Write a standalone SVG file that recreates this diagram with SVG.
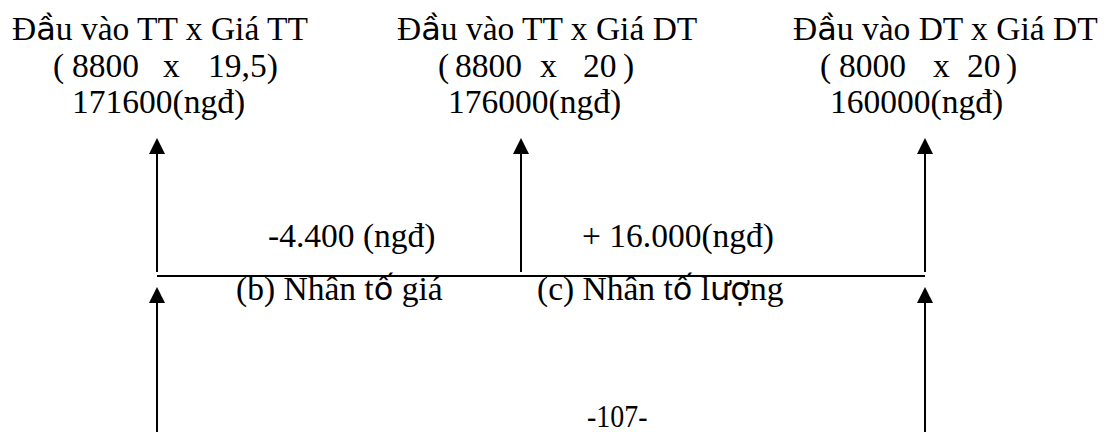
<svg xmlns="http://www.w3.org/2000/svg" width="1106" height="432" viewBox="0 0 1106 432">
<style>
text{font-family:"Liberation Serif","Times New Roman",serif;font-size:33.5px;fill:#000}
.s{font-family:"DejaVu Sans","Liberation Sans",sans-serif;font-size:32px}
.ln{stroke:#000;stroke-width:2;fill:none}
.pg{font-size:31px}
</style>
<defs>
<marker id="ah" markerUnits="userSpaceOnUse" markerWidth="16" markerHeight="16" viewBox="0 0 16 16" refX="8" refY="8" orient="auto">
<path d="M0,0 L16,8 L0,16 z" fill="#000"/>
</marker>
</defs>
<g id="connectors">
<line class="ln" x1="157" y1="272" x2="157" y2="146" marker-end="url(#ah)"/>
<line class="ln" x1="521" y1="272" x2="521" y2="146" marker-end="url(#ah)"/>
<line class="ln" x1="925" y1="272" x2="925" y2="146" marker-end="url(#ah)"/>
<line class="ln" x1="157" y1="276" x2="925" y2="276"/>
<line class="ln" x1="157" y1="432" x2="157" y2="295" marker-end="url(#ah)"/>
<line class="ln" x1="925" y1="432" x2="925" y2="295" marker-end="url(#ah)"/>
</g>
<g id="node-tt-tt">
<text x="12" y="40">Đ<tspan class="s">ầ</tspan>u vào TT x Giá TT</text>
<text y="77"><tspan x="53">(</tspan><tspan x="72">8800</tspan><tspan x="163">x</tspan><tspan x="208">19,5)</tspan></text>
<text x="72" y="113">171600(ngđ)</text>
</g>
<g id="node-tt-dt">
<text x="397" y="40">Đ<tspan class="s">ầ</tspan>u vào TT x Giá DT</text>
<text y="77"><tspan x="438">(</tspan><tspan x="455">8800</tspan><tspan x="540">x</tspan><tspan x="583">20</tspan><tspan x="623">)</tspan></text>
<text x="448" y="113">176000(ngđ)</text>
</g>
<g id="node-dt-dt">
<text x="793" y="40">Đ<tspan class="s">ầ</tspan>u vào DT x Giá DT</text>
<text y="77"><tspan x="820">(</tspan><tspan x="839">8000</tspan><tspan x="933">x</tspan><tspan x="967">20</tspan><tspan x="1006">)</tspan></text>
<text x="830" y="113">160000(ngđ)</text>
</g>
<g id="label-price">
<text x="268" y="247">-4.400 (ngđ)</text>
<text x="236" y="300">(b) Nhân t<tspan class="s">ố</tspan> giá</text>
</g>
<g id="label-quantity">
<text x="582" y="247">+ 16.000(ngđ)</text>
<text x="537" y="300">(c) Nhân t<tspan class="s">ố</tspan> l<tspan class="s">ượ</tspan>ng</text>
</g>
<g id="page-number">
<text class="pg" x="587" y="427" transform="translate(587 0) scale(0.9 1) translate(-587 0)">-107-</text>
</g>
</svg>
